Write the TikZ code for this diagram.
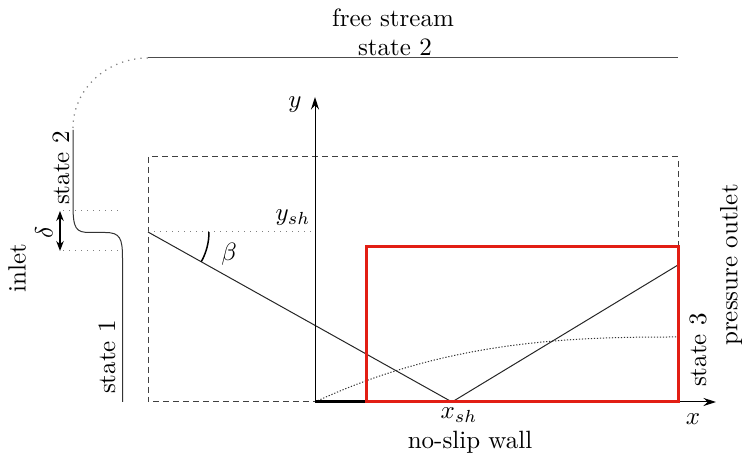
\documentclass[tikz,border=0pt]{standalone}
\usetikzlibrary{arrows.meta}
\definecolor{boxred}{RGB}{226,30,20}
\begin{document}
\begin{tikzpicture}[x=0.4pt,y=-0.4pt,
  thin line/.style={line width=0.4pt},
  lbl/.style={inner sep=0pt},
  vlbl/.style={inner sep=0pt,rotate=90},
  guide/.style={gray,dotted,line width=0.4pt},
  dashbox/.style={black!75,line width=0.4pt,dash pattern=on 2.4pt off 1.6pt},
  axisarrow/.style={line width=0.4pt,-{Stealth[length=5pt,width=3.2pt]}},
  redbox/.style={boxred,line width=1.2pt},
]
\useasboundingbox (0,0) rectangle (742,458);
% coordinates
\coordinate (O) at (315,402);
\coordinate (Yend) at (315,97);
\coordinate (Xend) at (716,402);
\coordinate (DTL) at (148,157);
\coordinate (DBR) at (678,402);
\coordinate (RTL) at (366,247);
\coordinate (RBR) at (678,402);
\coordinate (RBL) at (366,402);
\coordinate (S) at (148,232);
\coordinate (Ysh) at (315,232);
\coordinate (Xsh) at (452,402);
\coordinate (Rend) at (678,265);
\coordinate (FsL) at (148,58);
\coordinate (FsR) at (678,58);
\coordinate (ArcS) at (73,128);
\coordinate (InTop) at (73,130);
\coordinate (InA) at (73,205);
\coordinate (InB) at (122.5,258);
\coordinate (InBot) at (122.5,402);
\coordinate (D1L) at (63,211);
\coordinate (D1R) at (118,211);
\coordinate (D2L) at (63,251);
\coordinate (D2R) at (118,251);
\coordinate (DA) at (60,211);
\coordinate (DB) at (60,251);

% dashed domain
\draw[dashbox] (DTL) rectangle (DBR);
% free stream line and dotted arc
\draw[thin line,black!70] (FsL) -- (FsR);
\draw[gray,dotted,line width=0.5pt] (ArcS) arc[start angle=180,end angle=270,x radius=75,y radius=70];
% inlet profile
\draw[thin line,black!80] (InTop) -- (InA) .. controls (73,229) and (76,232.5) .. (90,232.5)
   -- (105,232.5) .. controls (120,232.5) and (122.5,238) .. (InB) -- (InBot);
\draw[guide] (D1L) -- (D1R);
\draw[guide] (D2L) -- (D2R);
\draw[line width=0.5pt,{Stealth[length=4pt,width=3pt]}-{Stealth[length=4pt,width=3pt]}] (DA) -- (DB);
% shock lines
\draw[guide] (S) -- (Ysh);
\draw[thin line,black!85] (S) -- (Xsh) -- (Rend);
\draw[line width=0.6pt] ([shift={(0:61)}]S) arc[start angle=0,end angle=29,radius=61];
% boundary layer
\draw[black!80,line width=0.4pt,dash pattern=on 0.5pt off 0.7pt] plot[domain=0:0.998,samples=60,smooth] ({315+363*\x},{402-65*(1-(1-\x)^2.6)});
% axes
\draw[axisarrow] (O) -- (Yend);
\draw[axisarrow] (O) -- (Xend);
\draw[line width=1.2pt] (O) -- (RBL);
% red box
\draw[redbox] (RTL) rectangle (RBR);
% labels
\node[lbl] (tfree) at (393,18) {free stream};
\node[lbl] (tstate2) at (395,47) {state 2};
\node[lbl] (ty) at (295,105) {$y$};
\node[lbl] (tysh) at (293,218) {$y_{sh}$};
\node[lbl] (tbeta) at (229,254) {$\beta$};
\node[vlbl] (tdelta) at (44,232) {$\delta$};
\node[vlbl] (tstate2v) at (61,168) {state 2};
\node[vlbl] (tinlet) at (17,268) {inlet};
\node[vlbl] (tstate1) at (107,357) {state 1};
\node[lbl] (txsh) at (459,415) {$x_{sh}$};
\node[lbl] (tnoslip) at (470,442) {no-slip wall};
\node[lbl] (tx) at (693,419) {$x$};
\node[vlbl] (tstate3) at (698,350) {state 3};
\node[vlbl] (tpout) at (731,265) {pressure outlet};
\end{tikzpicture}
\end{document}
